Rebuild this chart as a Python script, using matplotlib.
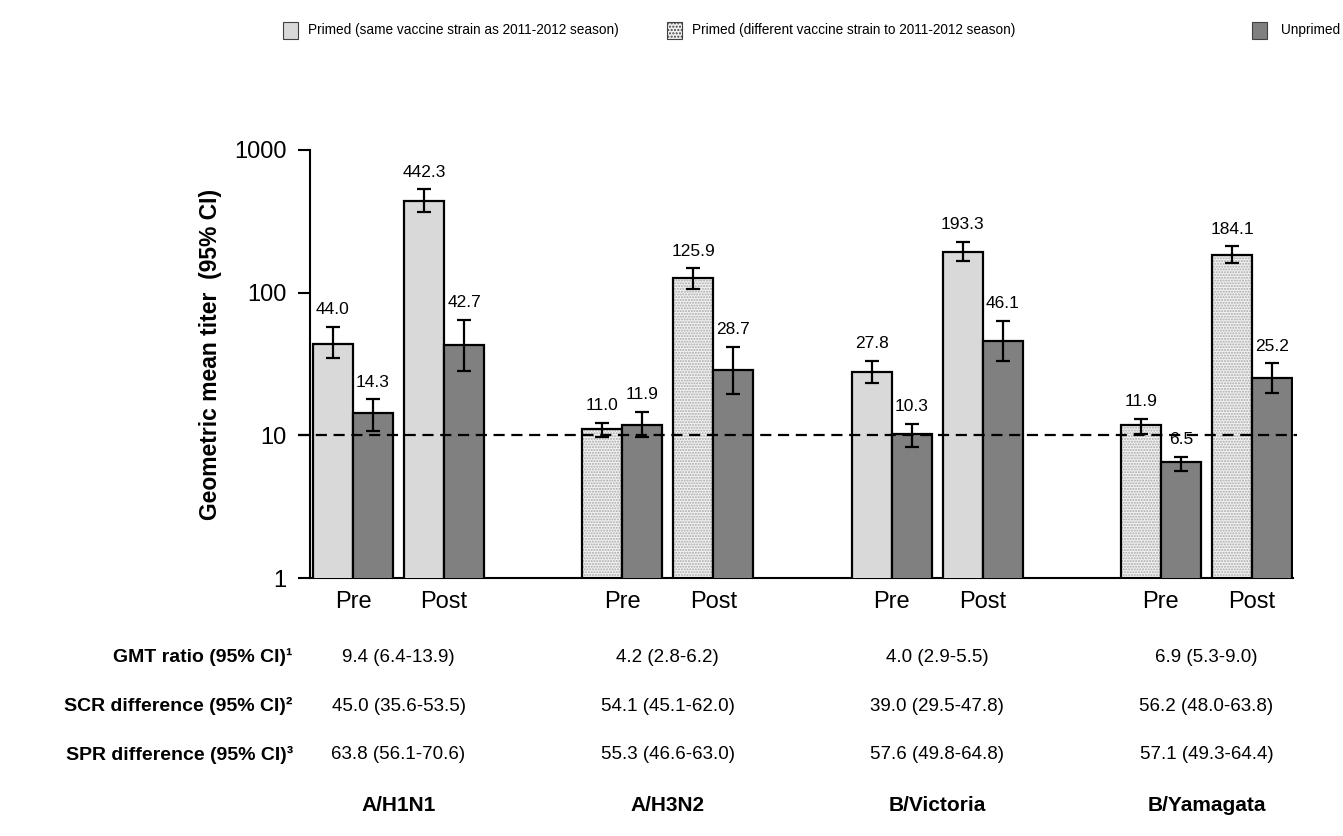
import matplotlib
matplotlib.use('Agg')
import matplotlib.pyplot as plt
import matplotlib.transforms as mtransforms
from matplotlib.patches import Rectangle
import numpy as np

plt.rcParams['font.family'] = ['Liberation Sans', 'DejaVu Sans']

# data
strains = ['A/H1N1', 'A/H3N2', 'B/Victoria', 'B/Yamagata']
# primed group: same strain (H1N1, B/Victoria) or different strain (H3N2, B/Yamagata)
primed_same = [True, False, True, False]

primed_pre = [44.0, 11.0, 27.8, 11.9]
primed_pre_lo = [35.0, 9.8, 23.3, 10.3]
primed_pre_hi = [57.6, 12.2, 33.1, 13.1]
unprimed_pre = [14.3, 11.9, 10.3, 6.5]
unprimed_pre_lo = [10.8, 9.7, 8.3, 5.6]
unprimed_pre_hi = [17.9, 14.6, 12.1, 7.1]

primed_post = [442.3, 125.9, 193.3, 184.1]
primed_post_lo = [370.0, 106.0, 167.0, 161.0]
primed_post_hi = [530.0, 148.0, 228.0, 211.0]
unprimed_post = [42.7, 28.7, 46.1, 25.2]
unprimed_post_lo = [28.2, 19.5, 33.1, 19.9]
unprimed_post_hi = [64.5, 41.5, 63.3, 31.9]

gmt_ratio = ['9.4 (6.4-13.9)', '4.2 (2.8-6.2)', '4.0 (2.9-5.5)', '6.9 (5.3-9.0)']
scr_diff = ['45.0 (35.6-53.5)', '54.1 (45.1-62.0)', '39.0 (29.5-47.8)', '56.2 (48.0-63.8)']
spr_diff = ['63.8 (56.1-70.6)', '55.3 (46.6-63.0)', '57.6 (49.8-64.8)', '57.1 (49.3-64.4)']
row_labels = ['GMT ratio (95% CI)\u00b9', 'SCR difference (95% CI)\u00b2', 'SPR difference (95% CI)\u00b3']

legend_labels = ['Primed (same vaccine strain as 2011-2012 season)',
                 'Primed (different vaccine strain to 2011-2012 season)',
                 'Unprimed']

c_same = '#d9d9d9'
c_unprimed = '#808080'
c_diff = '#f2f2f2'

fig = plt.figure(figsize=(13.43, 8.36), dpi=100)
ax = fig.add_axes([0.2308, 0.3086, 0.7320, 0.5120])

w = 1.0
group_step = 6.725
post_off = 2.275

pre_x = np.arange(4) * group_step
post_x = pre_x + post_off


def draw_bar(x, h, lo, hi, color, hatched):
    if hatched:
        ax.bar(x, h, w, color=color, edgecolor='#a8a8a8', hatch='......', linewidth=0, zorder=2)
        ax.bar(x, h, w, fill=False, edgecolor='black', linewidth=1.6, zorder=3)
    else:
        ax.bar(x, h, w, color=color, edgecolor='black', linewidth=1.6, zorder=3)
    ax.errorbar(x, h, yerr=[[h - lo], [hi - h]], fmt='none', ecolor='black',
                elinewidth=1.6, capsize=5, capthick=1.6, zorder=4)
    ax.annotate('%.1f' % h, (x, hi), xytext=(0, 7), textcoords='offset points',
                ha='center', va='bottom', fontsize=12.5)


for i in range(4):
    pc = c_same if primed_same[i] else c_diff
    hatched = not primed_same[i]
    draw_bar(pre_x[i] - w / 2, primed_pre[i], primed_pre_lo[i], primed_pre_hi[i], pc, hatched)
    draw_bar(pre_x[i] + w / 2, unprimed_pre[i], unprimed_pre_lo[i], unprimed_pre_hi[i], c_unprimed, False)
    draw_bar(post_x[i] - w / 2, primed_post[i], primed_post_lo[i], primed_post_hi[i], pc, hatched)
    draw_bar(post_x[i] + w / 2, unprimed_post[i], unprimed_post_lo[i], unprimed_post_hi[i], c_unprimed, False)

ax.set_yscale('log')
ax.set_ylim(1, 1000)
xmin = pre_x[0] - 1.075
xmax = post_x[-1] + 1.025
ax.set_xlim(xmin, xmax)

# threshold line at titer 10
ax.plot([xmin - 0.3, xmax + 0.1], [10, 10], color='black', linestyle=(0, (5, 3)),
        linewidth=1.6, zorder=6, clip_on=False)

ax.set_yticks([1, 10, 100, 1000])
ax.set_yticklabels(['1', '10', '100', '1000'])
ax.yaxis.set_minor_locator(matplotlib.ticker.NullLocator())
ax.tick_params(axis='y', direction='out', length=9, width=1.5, labelsize=17, pad=8)

ticks = np.concatenate([pre_x, post_x])
ax.set_xticks(ticks)
ax.set_xticklabels(['Pre'] * 4 + ['Post'] * 4)
ax.tick_params(axis='x', length=0, labelsize=17, pad=9)

for s in ['top', 'right']:
    ax.spines[s].set_visible(False)
ax.spines['left'].set_linewidth(1.5)
ax.spines['bottom'].set_linewidth(1.5)

ax.set_ylabel('Geometric mean titer  (95% CI)', fontsize=16.5, fontweight='bold')
ax.yaxis.set_label_coords(-0.0895, 0.523)

# table under the chart
trans = mtransforms.blended_transform_factory(ax.transData, fig.transFigure)
centers = (pre_x + post_x) / 2
row_y = [0.2141, 0.1555, 0.0969]
for r, vals in enumerate([gmt_ratio, scr_diff, spr_diff]):
    fig.text(0.218, row_y[r], row_labels[r], ha='right', va='center',
             fontsize=14, fontweight='bold')
    for i in range(4):
        fig.text(centers[i], row_y[r], vals[i], transform=trans, ha='center',
                 va='center', fontsize=13.5)
for i in range(4):
    fig.text(centers[i], 0.0359, strains[i], transform=trans, ha='center',
             va='center', fontsize=15, fontweight='bold')

# legend across the top
leg_patch_x = [0.2107, 0.4967, 0.9322]
leg_text_x = [0.2293, 0.5153, 0.9538]
leg_fill = [c_same, c_diff, c_unprimed]
leg_hatch = [None, '.....', None]
for k in range(3):
    fig.add_artist(Rectangle((leg_patch_x[k], 0.9533), 0.0112, 0.0203,
                             transform=fig.transFigure, facecolor=leg_fill[k],
                             edgecolor='#404040', linewidth=0.8, hatch=leg_hatch[k]))
    fig.text(leg_text_x[k], 0.9641, legend_labels[k], ha='left', va='center', fontsize=9.8)

fig.savefig('out.png', dpi=100)
